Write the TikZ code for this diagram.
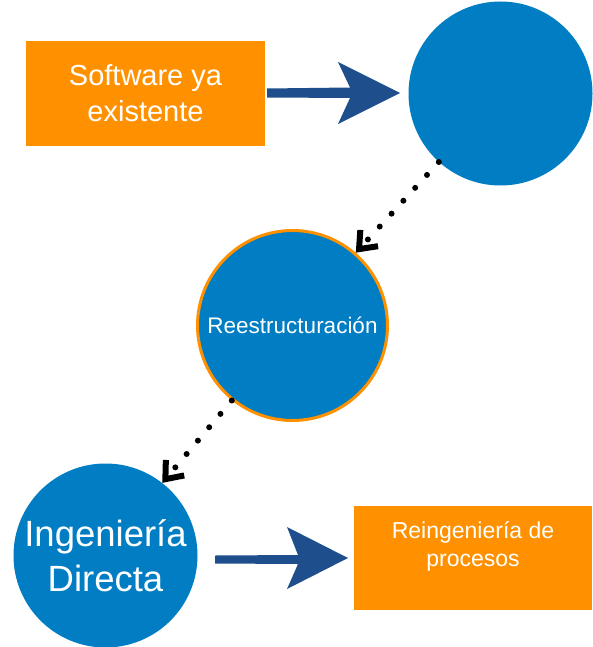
\documentclass[tikz,border=0pt]{standalone}
\usepackage{fontspec}
\setmainfont{Liberation Sans}
\usetikzlibrary{arrows.meta}
\definecolor{orng}{RGB}{255,145,0}
\definecolor{cblue}{RGB}{0,125,195}
\definecolor{darrow}{RGB}{31,78,140}
\tikzset{
  obox/.style={rectangle, fill=orng, draw=none, inner sep=0pt},
  bcircle/.style={circle, fill=cblue, draw=none, inner sep=0pt, text=white, align=center},
  wtext/.style={text=white, align=center, inner sep=0pt},
  blockarrow/.style={fill=darrow, draw=none},
  dotconn/.style={line width=6pt, line cap=round, dash pattern=on 0pt off 17.5pt,
    -{Straight Barb[length=15pt,width=24pt,line width=6pt]}}
}
\begin{document}
\begin{tikzpicture}[x=1pt,y=-1pt]
\useasboundingbox (0,0) rectangle (593,647);
% boxes
\node[obox, minimum width=239pt, minimum height=105pt, wtext, font=\fontsize{29}{36}\selectfont] (sw) at (145.5,93.5) {Software ya\\existente};
\node[obox, minimum width=238pt, minimum height=104pt] (rp) at (473,558) {};
\node[wtext, font=\fontsize{23}{28}\selectfont] (rpt) at ([yshift=12pt]rp.center) {Reingeniería de\\procesos};
% circles
\node[bcircle, minimum size=184pt] (top) at (500.5,93.5) {};
\node[bcircle, minimum size=190pt, draw=orng, line width=3pt, font=\fontsize{22.5}{26}\selectfont] (re) at (292.5,325.5) {Reestructuración};
\node[bcircle, minimum size=184pt, font=\fontsize{36.5}{45}\selectfont] (ing) at (105.5,555.5) {Ingeniería\\Directa};
% block arrows
\fill[blockarrow] (267,88.5) -- (350,87.5) -- (338,62) -- (400,93) -- (338,124) -- (350,98) -- (267,97.5) -- cycle;
\fill[blockarrow] (215,555.5) -- (298,555) -- (287,527) -- (348,558) -- (287,589) -- (298,564) -- (215,563.5) -- cycle;
% dotted connectors
\draw[dotconn] (top.228) -- (re.49);
\draw[dotconn] (re.231) -- (ing.52);
\end{tikzpicture}
\end{document}
